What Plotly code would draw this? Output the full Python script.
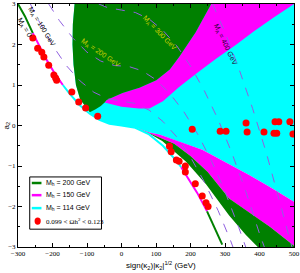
import plotly.graph_objects as go

# ---- lower curve (M_A = 0) ----
lc_x = [-300, -280, -257, -237, -217, -193, -170, -150, -121, -92, -64, -35, 0, 40, 80, 120, 160, 173, 200, 220, 248, 270, 292]
lc_y = [3.0, 2.70, 2.28, 1.94, 1.62, 1.28, 1.0, 0.78, 0.50, 0.29, 0.14, 0.04, 0.0, -0.055, -0.22, -0.50, -0.88, -1.03, -1.38, -1.67, -2.12, -2.51, -2.94]

# ---- region boundaries ----
gl_x = [-136, -141, -142, -139, -132, -120, -100, -92]
gl_y = [3.0, 2.5, 2.0, 1.5, 1.0, 0.65, 0.42, 0.33]
gb_x = [-92, -75, -60, -49]
gb_y = [0.33, 0.40, 0.48, 0.57]
gm_x = [-49, -43, 3, 52, 101, 140, 167, 215, 260]
gm_y = [0.57, 0.63, 0.80, 0.93, 1.12, 1.38, 1.69, 2.3, 3.0]
mc_x = [-49, 0, 50, 81, 120, 167, 220, 274, 330, 384, 440, 500]
mc_y = [0.57, 0.46, 0.42, 0.42, 0.6, 0.95, 1.3, 1.65, 1.98, 2.33, 2.66, 3.0]
cm_x = [45, 81, 110, 167, 234, 300, 370, 430, 500]
cm_y = [-0.06, -0.17, -0.22, -0.4, -0.6, -0.9, -1.22, -1.52, -1.88]
mg_x = [45, 100, 153, 200, 250, 312, 370, 430, 500]
mg_y = [-0.06, -0.25, -0.45, -0.75, -1.15, -1.8, -2.15, -2.5, -2.97]
gw_x = [45, 80, 118, 188, 245, 312, 360, 395]
gw_y = [-0.06, -0.2, -0.38, -0.9, -1.45, -2.22, -2.7, -3.0]

# ---- M_A contours ----
ma100_x = [-264, -240, -200, -160, -120, -80, -40, 0, 40, 80, 120, 160, 200, 240, 280, 316, 323]
ma100_y = [3.0, 2.59, 1.98, 1.48, 1.10, 0.82, 0.66, 0.60, 0.545, 0.38, 0.10, -0.28, -0.78, -1.39, -2.10, -2.84, -3.0]
ma200_x = [-211, -180, -140, -100, -60, -20, 20, 60, 100, 140, 180, 220, 260, 300, 340, 360]
ma200_y = [3.0, 2.59, 2.15, 1.81, 1.59, 1.48, 1.46, 1.35, 1.13, 0.79, 0.35, -0.2, -0.86, -1.63, -2.52, -3.0]
ma300_x = [-66, -40, 0, 40, 80, 120, 160, 200, 240, 280, 320, 360, 400, 414]
ma300_y = [3.0, 2.91, 2.85, 2.79, 2.63, 2.35, 1.97, 1.47, 0.86, 0.15, -0.68, -1.62, -2.67, -3.0]
ma400_x = [264, 300, 340, 380, 420, 460, 494]
ma400_y = [3.0, 2.3, 1.41, 0.42, -0.68, -1.9, -3.0]

# ---- relic density points ----
dots_x = [-257, -243, -231, -225, -211, -196, -191, -188, -144, -124, -104, -69,
          139, 144, 159, 167, 185, 185, 214, 234, 245, 251,
          205, 286, 303, 361, 364, 413, 445, 456, 442, 450, 488, 497]
dots_y = [2.16, 1.91, 1.81, 1.69, 1.49, 1.25, 1.17, 1.12, 0.83, 0.58, 0.43, 0.23,
          -0.51, -0.65, -0.85, -0.88, -1.0, -1.15, -1.44, -1.74, -1.91, -2.0,
          -0.09, -0.14, -0.14, 0.06, -0.16, -0.16, 0.09, 0.09, -0.19, -0.19, 0.09, -0.21]

legend_labels = ["M<sub>h</sub> = 200 GeV", "M<sub>h</sub> = 150 GeV", "M<sub>h</sub> = 114 GeV",
                 "0.099 &lt; Ωh<sup>2</sup> &lt; 0.123"]

GREEN = "#008000"
MAG = "#ff00ff"
CYAN = "#00ffff"
RED = "#ff0000"
VIOLET = "#9060e0"

def rev(a):
    return list(a)[::-1]

lc_mid = [(x, y) for x, y in zip(lc_x, lc_y) if -92 <= x <= 40]

fig = go.Figure()

def poly(xs, ys, color):
    fig.add_trace(go.Scatter(x=xs, y=ys, mode="lines", fill="toself", fillcolor=color,
                             line=dict(width=0, color=color), hoverinfo="skip", showlegend=False))

# cyan region
poly(gl_x + [p[0] for p in lc_mid] + cm_x + [500, -136],
     gl_y + [p[1] for p in lc_mid] + cm_y + [3.0, 3.0], CYAN)
# magenta upper
poly(gm_x + [500] + rev(mc_x), gm_y + [3.0] + rev(mc_y), MAG)
# green upper
poly(gl_x + gb_x + gm_x + [-136], gl_y + gb_y + gm_y + [3.0], GREEN)
# magenta lower
poly(cm_x + rev(mg_x), cm_y + rev(mg_y), MAG)
# green lower
poly(mg_x + [500] + rev(gw_x), mg_y + [-3.0] + rev(gw_y), GREEN)

# contours
for cx, cy in [(ma100_x, ma100_y), (ma200_x, ma200_y), (ma300_x, ma300_y), (ma400_x, ma400_y)]:
    fig.add_trace(go.Scatter(x=cx, y=cy, mode="lines", line=dict(color=VIOLET, width=1, dash="dash"),
                             hoverinfo="skip", showlegend=False))

# lower curve segments
segs = [(0, 2, GREEN), (2, 6, MAG), (6, 17, CYAN), (17, 20, MAG), (20, 22, GREEN)]
for i0, i1, col in segs:
    fig.add_trace(go.Scatter(x=lc_x[i0:i1 + 1], y=lc_y[i0:i1 + 1], mode="lines",
                             line=dict(color=col, width=2), hoverinfo="skip", showlegend=False))

fig.add_trace(go.Scatter(x=dots_x, y=dots_y, mode="markers",
                         marker=dict(color=RED, size=7, line=dict(width=0)), showlegend=False))

# labels
def lab(text, x, y, ang, color, size=7):
    fig.add_annotation(x=x, y=y, text=text, showarrow=False, textangle=ang,
                       font=dict(family="Liberation Sans", size=size, color=color))

lab("M<sub>A</sub> = 0", -280, 2.41, 60, "black")
lab("M<sub>A</sub> = 100 GeV", -231, 2.43, 58, "black")
lab("M<sub>A</sub> = 200 GeV", -61, 1.79, 34, "#d0d000")
lab("M<sub>A</sub> = 300 GeV", 110, 2.28, 46, "#d0d000")
lab("M<sub>A</sub> = 400 GeV", 300, 2.01, 64, "#200030")

# legend (manual)
fig.add_shape(type="rect", x0=-266, x1=-58, y0=-2.56, y1=-1.27, line=dict(color="black", width=1),
              fillcolor="white", layer="above")
rows = [-1.42, -1.72, -2.04, -2.36]
for yy, col in zip(rows[:3], [GREEN, MAG, CYAN]):
    fig.add_shape(type="line", x0=-260, x1=-232, y0=yy, y1=yy, line=dict(color=col, width=2.5), layer="above")
fig.add_shape(type="circle", x0=-252, x1=-234, y0=rows[3] - 0.09, y1=rows[3] + 0.09,
              fillcolor=RED, line=dict(width=0), layer="above")
for i, (yy, t) in enumerate(zip(rows, legend_labels)):
    fig.add_annotation(x=-224, y=yy, text=t, showarrow=False, xanchor="left",
                       font=dict(family="Liberation Serif" if i == 3 else "Liberation Sans", size=7, color="black"))

# axis titles
fig.add_annotation(xref="paper", yref="paper", x=0.5, y=0, yshift=-18, xshift=5, yanchor="middle",
                   text="sign(κ<sub>2</sub>)|κ<sub>2</sub>|<sup>1/2</sup> (GeV)", showarrow=False,
                   font=dict(family="Liberation Sans", size=8, color="black"))
fig.add_annotation(xref="paper", yref="paper", x=0, y=0.5, xshift=-12, xanchor="center", yanchor="middle",
                   textangle=-90, text="a<sub>2</sub>", showarrow=False,
                   font=dict(family="Liberation Sans", size=8, color="black"))

axis_common = dict(showline=True, linecolor="black", linewidth=1, mirror="allticks", ticks="inside",
                   ticklen=4, tickcolor="black", showgrid=False, zeroline=False, automargin=False,
                   tickfont=dict(family="Liberation Serif", size=7, color="black"))
fig.update_xaxes(range=[-300, 500], dtick=100, tick0=0,
                 minor=dict(ticks="inside", dtick=50, ticklen=2, tickcolor="black"), **axis_common)
fig.update_yaxes(range=[-3, 3], dtick=1, tick0=0,
                 minor=dict(ticks="inside", dtick=0.5, ticklen=2, tickcolor="black"), **axis_common)

fig.update_layout(width=300, height=273, margin=dict(l=18, r=6, t=4, b=26, autoexpand=False),
                  plot_bgcolor="white", paper_bgcolor="white", showlegend=False)

fig.write_html("out.html", config={"displayModeBar": False, "staticPlot": True},
               post_script="document.body.style.margin='0';document.body.style.padding='0';"
                           "document.body.style.overflow='hidden';")
